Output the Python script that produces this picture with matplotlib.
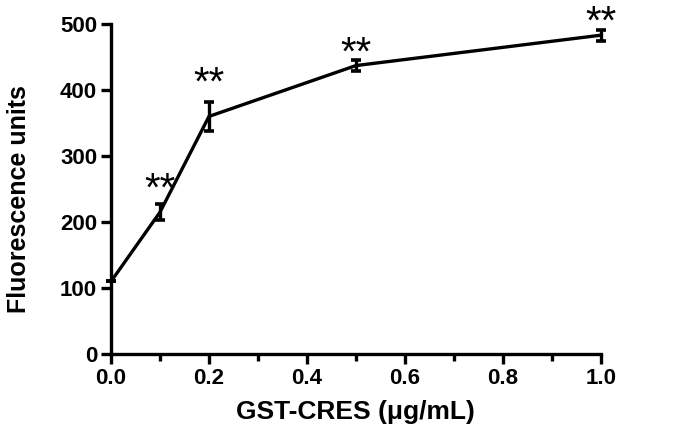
import matplotlib
matplotlib.use('Agg')
import matplotlib.pyplot as plt
from matplotlib.ticker import MultipleLocator

# dose of GST-CRES and measured fluorescence
conc = [0.0, 0.1, 0.2, 0.5, 1.0]
fluor = [110, 215, 360, 437, 483]
err = [0, 12, 22, 8, 8]
# significance marks and the height they sit at
stars = ['', '**', '**', '**', '**']
star_y = [0, 262, 423, 468, 515]

plt.rcParams['font.family'] = ['Liberation Sans', 'DejaVu Sans']
plt.rcParams['font.weight'] = 'bold'

fig = plt.figure(figsize=(6.94, 4.42), dpi=100)
ax = fig.add_axes([0.16, 0.199, 0.7056, 0.7467])

ax.errorbar(conc, fluor, yerr=err, color='black', lw=2.4,
            elinewidth=2.4, capsize=3.5, capthick=2.6, clip_on=False)

for x, y, s in zip(conc, star_y, stars):
    if s:
        ax.annotate(s, (x, y), xytext=(0, -6), textcoords='offset points',
                    ha='center', va='center', fontsize=29,
                    fontweight='normal', annotation_clip=False)

ax.set_xlim(0, 1.0)
ax.set_ylim(0, 500)
ax.xaxis.set_major_locator(MultipleLocator(0.2))
ax.xaxis.set_minor_locator(MultipleLocator(0.1))
ax.yaxis.set_major_locator(MultipleLocator(100))
ax.set_xticklabels([f'{v:.1f}' for v in ax.get_xticks()])

for side in ['top', 'right']:
    ax.spines[side].set_visible(False)
for side in ['left', 'bottom']:
    ax.spines[side].set_linewidth(2.4)

ax.tick_params(which='major', length=7, width=2.4, labelsize=16, pad=3)
ax.tick_params(which='minor', length=5, width=2.4)

ax.set_xlabel('GST-CRES (\u03bcg/mL)', fontsize=19, fontweight='bold', labelpad=8)
ax.set_ylabel('Fluorescence units', fontsize=18, fontweight='bold')
ax.yaxis.set_label_coords(-0.163, 0.47)

fig.savefig('out.png', dpi=100)
